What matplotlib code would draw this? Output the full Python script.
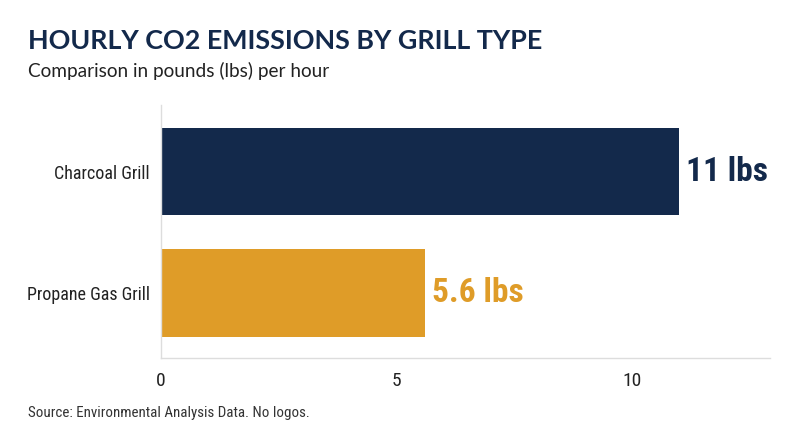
import matplotlib
matplotlib.use("Agg")
import matplotlib.pyplot as plt

# data
categories = ["Propane Gas Grill", "Charcoal Grill"]
values = [5.6, 11]
value_labels = ["5.6 lbs", "11 lbs"]
bar_colors = ["#DF9C28", "#13294B"]
xticks = [0, 5, 10]

title = "HOURLY CO2 EMISSIONS BY GRILL TYPE"
subtitle = "Comparison in pounds (lbs) per hour"
source = "Source: Environmental Analysis Data. No logos."

narrow = ["Roboto Condensed", "DejaVu Sans"]
head = ["Lato", "DejaVu Sans"]
navy = "#13294B"

fig = plt.figure(figsize=(8, 4.47), dpi=100)
ax = fig.add_axes([0.201, 0.199, 0.7615, 0.566])

ypos = range(len(categories))
ax.barh(ypos, values, height=0.72, color=bar_colors)

for y, v, lab, c in zip(ypos, values, value_labels, bar_colors):
    ax.text(v + 0.15, y, lab, va="center", ha="left", fontsize=24,
            fontweight="bold", color=c, family=narrow)

ax.set_xlim(0, 12.93)
ax.set_ylim(-0.535, 1.547)
ax.set_yticks(list(ypos))
ax.set_yticklabels(categories, family=narrow, fontsize=13, color="#222222")
ax.set_xticks(xticks)
ax.set_xticklabels([str(t) for t in xticks], family=narrow, fontsize=14, color="#222222")
ax.tick_params(length=0)
ax.tick_params(axis="y", pad=8)
ax.tick_params(axis="x", pad=10)

for s in ["top", "right"]:
    ax.spines[s].set_visible(False)
for s in ["left", "bottom"]:
    ax.spines[s].set_color("#dddddd")
    ax.spines[s].set_linewidth(1)

fig.text(0.035, 0.89, title, fontsize=19.4, fontweight="bold", color=navy,
         family=head, va="baseline")
fig.text(0.035, 0.828, subtitle, fontsize=13.7, color="#222222",
         family=head, va="baseline")
fig.text(0.035, 0.067, source, fontsize=10.8, color="#333333",
         family=narrow, va="baseline")

fig.savefig("out.png", dpi=100)
